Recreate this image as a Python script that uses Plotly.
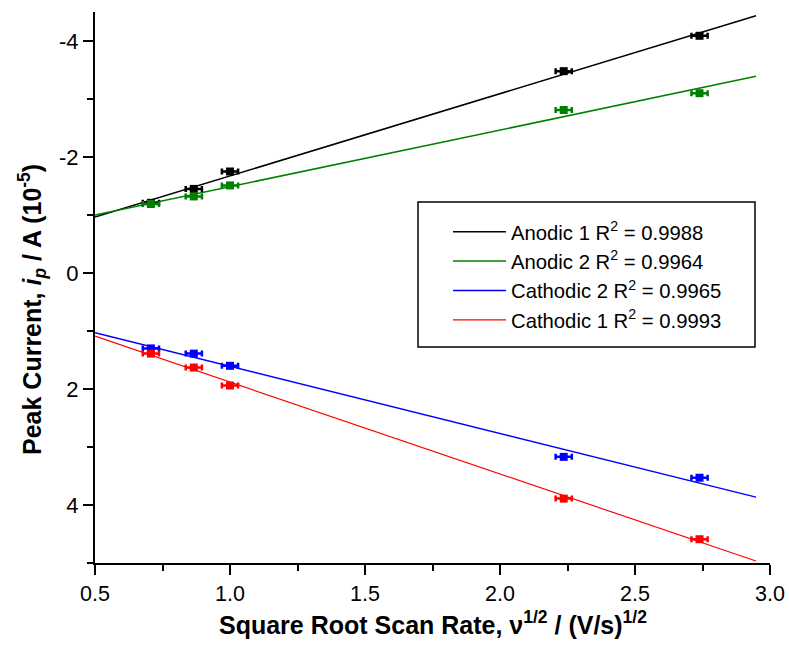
import numpy as np
import plotly.graph_objects as go

# Data
scan_rate_sqrt = [0.707, 0.866, 1.0, 2.236, 2.739]
anodic1 = [-1.21, -1.45, -1.75, -3.48, -4.09]
anodic2 = [-1.19, -1.32, -1.51, -2.81, -3.10]
cathodic2 = [1.30, 1.39, 1.60, 3.17, 3.53]
cathodic1 = [1.39, 1.63, 1.94, 3.89, 4.59]
x_err = [0.03, 0.03, 0.03, 0.03, 0.03]
y_err = [0.03, 0.03, 0.03, 0.03, 0.03]
fit_range = [0.5, 2.948]

series_names = ["Anodic 1 R<sup>2</sup> = 0.9988",
                "Anodic 2 R<sup>2</sup> = 0.9964",
                "Cathodic 2 R<sup>2</sup> = 0.9965",
                "Cathodic 1 R<sup>2</sup> = 0.9993"]
series_values = [anodic1, anodic2, cathodic2, cathodic1]
series_colors = ["#000000", "#008000", "#0000FF", "#FF0000"]
line_widths = [1.5, 1.5, 1.5, 1.2]

x_ticks = [0.5, 1.0, 1.5, 2.0, 2.5, 3.0]
x_ticklabels = ["0.5", "1.0", "1.5", "2.0", "2.5", "3.0"]
y_ticks = [-4, -2, 0, 2, 4]
y_ticklabels = ["-4", "-2", "0", "2", "4"]

x_title = "<b>Square Root Scan Rate, ν<sup>1/2</sup> / (V/s)<sup>1/2</sup></b>"
y_title = "<b>Peak Current, <i>i</i><sub><i>p</i></sub> / A (10<sup>-5</sup>)</b>"

fig = go.Figure()

# fitted lines (legend entries)
for i, (name, vals, col) in enumerate(zip(series_names, series_values, series_colors)):
    slope, intercept = np.polyfit(scan_rate_sqrt, vals, 1)
    xf = np.array(fit_range)
    fig.add_trace(go.Scatter(
        x=xf, y=slope * xf + intercept, mode="lines", name=name,
        line=dict(color=col, width=line_widths[i]),
        legendgroup=f"g{i}", showlegend=True, hoverinfo="skip"))

# data points with error bars
for i, (vals, col) in enumerate(zip(series_values, series_colors)):
    fig.add_trace(go.Scatter(
        x=scan_rate_sqrt, y=vals, mode="markers",
        marker=dict(symbol="square", size=8, color=col),
        error_x=dict(type="data", array=x_err, color=col, thickness=2.5, width=3),
        error_y=dict(type="data", array=y_err, color=col, thickness=1.5, width=3),
        showlegend=False, legendgroup=f"g{i}"))

font_family = "Liberation Sans, Arial, sans-serif"

L, R, T, B = 95, 19, 12, 87
PW, PH = 789 - L - R, 650 - T - B


def px_x(px):
    return (px - L) / PW


def px_y(py):
    return (650 - B - py) / PH


fig.update_layout(
    width=789, height=650,
    margin=dict(l=L, r=R, t=T, b=B),
    paper_bgcolor="white", plot_bgcolor="white",
    font=dict(family=font_family, color="black"),
    showlegend=True,
    legend=dict(
        x=px_x(448), y=px_y(212), xanchor="left", yanchor="top",
        bgcolor="rgba(0,0,0,0)", borderwidth=0,
        font=dict(size=20.3, family=font_family),
        itemwidth=53, tracegroupgap=3, traceorder="normal"),
    xaxis=dict(
        range=[0.5, 3.0], showgrid=False, zeroline=False, automargin=False,
        showline=True, linecolor="black", linewidth=2,
        tickmode="array", tickvals=x_ticks, ticktext=x_ticklabels,
        ticks="outside", ticklen=10, tickwidth=2, tickcolor="black",
        minor=dict(ticks="outside", ticklen=6, tickwidth=2, tickcolor="black", dtick=0.25, showgrid=False),
        tickfont=dict(size=21.5),
    ),
    yaxis=dict(
        range=[5, -4.5], showgrid=False, zeroline=False, automargin=False,
        showline=True, linecolor="black", linewidth=2,
        tickmode="array", tickvals=y_ticks, ticktext=y_ticklabels,
        ticks="outside", ticklen=10, tickwidth=2, tickcolor="black",
        minor=dict(ticks="outside", ticklen=6, tickwidth=2, tickcolor="black", dtick=1, showgrid=False),
        tickfont=dict(size=22),
    ),
)

# axis titles
fig.add_annotation(text=x_title, xref="paper", yref="paper",
                   x=px_x(433), y=px_y(623), xanchor="center", yanchor="middle",
                   showarrow=False, font=dict(size=25, family=font_family))
fig.add_annotation(text=y_title, xref="paper", yref="paper",
                   x=px_x(32), y=px_y(310), xanchor="center", yanchor="middle",
                   textangle=-90, showarrow=False, font=dict(size=25, family=font_family))

# legend frame
fig.add_shape(type="rect", xref="paper", yref="paper",
              x0=px_x(418), x1=px_x(755), y0=px_y(347), y1=px_y(202),
              line=dict(color="black", width=1.5), fillcolor="rgba(0,0,0,0)")

fig.write_html("out.html")
